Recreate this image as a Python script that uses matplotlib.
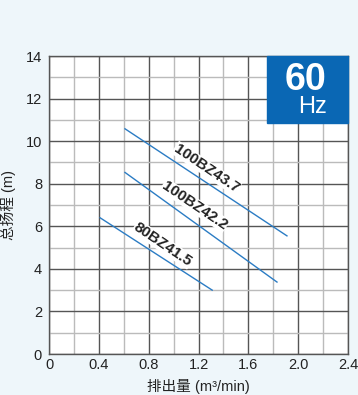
import numpy as np
import matplotlib.pyplot as plt

plt.rcParams['font.family'] = ['Liberation Sans', 'Noto Sans CJK SC', 'DejaVu Sans']

# ---------------- DATA ----------------
MODELS = ["100BZ43.7", "100BZ42.2", "80BZ41.5"]
FLOW = [
    [0.61, 1.91],
    [0.61, 1.83],
    [0.41, 1.31],
]
HEAD = [
    [10.58, 5.55],
    [8.53, 3.38],
    [6.40, 3.00],
]
LABEL_POS = [(1.265, 8.72), (1.17, 6.98), (0.915, 5.15)]
X_TICKS = [0, 0.4, 0.8, 1.2, 1.6, 2.0, 2.4]
X_TICK_LABELS = ["0", "0.4", "0.8", "1.2", "1.6", "2.0", "2.4"]
Y_TICKS = [0, 2, 4, 6, 8, 10, 12, 14]

BG = "#eef6fa"
LINE_C = "#2b7cc4"
BOX_C = "#0a67b4"

fig = plt.figure(figsize=(3.58, 3.95), dpi=100, facecolor=BG)
ax = fig.add_axes([49/358, 1-354/395, 299/358, 298/395])
ax.set_facecolor("white")

ax.set_xlim(0, 2.4)
ax.set_ylim(0, 14)
ax.set_xticks(X_TICKS, X_TICK_LABELS)
ax.set_xticks(np.arange(0.2, 2.4, 0.4), minor=True)
ax.set_yticks(Y_TICKS)
ax.set_yticks(np.arange(1, 14, 2), minor=True)
ax.grid(which='major', color='#555555', lw=1.0)
ax.grid(which='minor', color='#bbbbbb', lw=1.0)
ax.set_axisbelow(True)
for s in ax.spines.values():
    s.set_color('#555555')
    s.set_linewidth(1.0)
ax.tick_params(which='both', length=0, labelsize=10.5, colors='#222222')
ax.tick_params(axis='x', pad=3)
ax.tick_params(axis='y', pad=5)

for q, h in zip(FLOW, HEAD):
    ax.plot(q, h, color=LINE_C, lw=1.0)

for name, (x, y) in zip(MODELS, LABEL_POS):
    ax.text(x, y, name, rotation=-34, rotation_mode='anchor', ha='center', va='center',
            fontsize=11, fontweight='bold', color='#222222',
            bbox=dict(facecolor='white', edgecolor='none', pad=0.3))

# 60Hz box
fig.patches.append(plt.Rectangle((267/358, 1-123/395), 81/358, 67/395,
                                 transform=fig.transFigure, color=BOX_C, zorder=5))
fig.text(305/358, 1-80/395, "60", color='white', fontsize=27, fontweight='bold',
         ha='center', va='center', zorder=6)
fig.text(312/358, 1-107/395, "Hz", color='white', fontsize=17,
         ha='center', va='center', zorder=6)

ax.set_xlabel("排出量 (m³/min)", fontsize=10.5, color='#222222', labelpad=5)
ax.set_ylabel("总扬程 (m)", fontsize=10.5, color='#222222', labelpad=7)

fig.savefig("out.png", dpi=100, facecolor=BG)
